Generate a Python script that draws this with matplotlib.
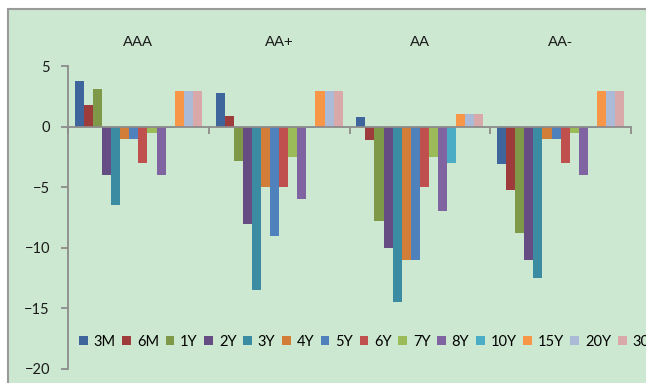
import numpy as np
import matplotlib
matplotlib.use("Agg")
import matplotlib.pyplot as plt
from matplotlib.patches import Rectangle
from matplotlib.transforms import blended_transform_factory

ratings = ["AAA", "AA+", "AA", "AA-"]
tenors = ["3M", "6M", "1Y", "2Y", "3Y", "4Y", "5Y", "6Y", "7Y",
          "8Y", "10Y", "15Y", "20Y", "30Y"]

# spread change per tenor, one list per rating bucket
aaa = [3.8, 1.8, 3.1, -4.0, -6.5, -1.0, -1.0, -3.0, -0.5, -4.0, -0.1, 2.9, 2.9, 2.9]
aa_plus = [2.8, 0.85, -2.8, -8.0, -13.5, -5.0, -9.0, -5.0, -2.5, -6.0, -0.1, 2.9, 2.9, 2.9]
aa = [0.8, -1.1, -7.8, -10.0, -14.5, -11.0, -11.0, -5.0, -2.5, -7.0, -3.0, 1.0, 1.0, 1.0]
aa_minus = [-3.1, -5.2, -8.8, -11.0, -12.5, -1.0, -1.0, -3.0, -0.5, -4.0, -0.1, 2.9, 2.9, 2.9]

colors = ["#3f659d", "#9e3b3b", "#7e9a48", "#654d83", "#3b8ba3", "#d27e39",
          "#4f81bd", "#c0504d", "#9bbb59", "#8064a2", "#4bacc6", "#f79646",
          "#aabad7", "#d9a9aa"]

BG = "#cde8d0"
AXIS = "#8c8c8c"
W, H = 646, 383


def main():
    values = np.array([aaa, aa_plus, aa, aa_minus])
    n_groups, n_series = values.shape
    x = np.arange(n_groups)
    width = 1 / (n_series + 1.5)   # 150% gap between clusters

    fig = plt.figure(figsize=(W / 100, H / 100), dpi=100, facecolor="white")
    # green chart area, only its top and left border fall inside the canvas
    fig.add_artist(Rectangle((8 / W, -0.1), 1.2, 1.1 - 9 / H, transform=fig.transFigure,
                             facecolor=BG, edgecolor="#9a9a9a", lw=1.5, zorder=-1))

    ax = fig.add_axes([68 / W, 14 / H, 563 / W, 303 / H])
    ax.set_facecolor("none")

    for j, tenor in enumerate(tenors):
        ax.bar(x + (j - (n_series - 1) / 2) * width, values[:, j], width,
               color=colors[j], label=tenor, linewidth=0, zorder=2)

    ax.set_xlim(-0.5, n_groups - 0.5)
    ax.set_ylim(-20, 5)
    ax.set_yticks(np.arange(-20, 6, 5))
    ax.set_xticks(np.arange(n_groups + 1) - 0.5)
    ax.set_xticklabels([])

    for side in ("top", "right"):
        ax.spines[side].set_visible(False)
    ax.spines["bottom"].set_position(("data", 0))
    for side in ("bottom", "left"):
        ax.spines[side].set_color(AXIS)
        ax.spines[side].set_linewidth(1.3)
        ax.spines[side].set_zorder(3)
    ax.tick_params(axis="x", direction="out", length=5, width=1.3, color=AXIS)
    ax.tick_params(axis="y", direction="out", length=5, width=1.3, color=AXIS,
                   pad=8, labelsize=10.5, labelcolor="#1a1a1a")
    for lbl in ax.get_yticklabels():
        lbl.set_family("Lato")

    # rating names sit above the plot
    top = blended_transform_factory(ax.transData, fig.transFigure)
    for i, name in enumerate(ratings):
        ax.text(i, (H - 42) / H, name, transform=top, ha="center", va="center",
                fontsize=10.8, family="Liberation Sans", color="#1a1a1a")

    fig.legend(loc="center left", bbox_to_anchor=(79 / W, (H - 342) / H), ncol=n_series,
               frameon=False, handlelength=0.6, handleheight=0.6, handletextpad=0.4,
               columnspacing=0.45, borderpad=0, borderaxespad=0,
               prop={"family": "Lato", "size": 10.5})

    fig.savefig("out.png", dpi=100, facecolor="white")


if __name__ == "__main__":
    main()
